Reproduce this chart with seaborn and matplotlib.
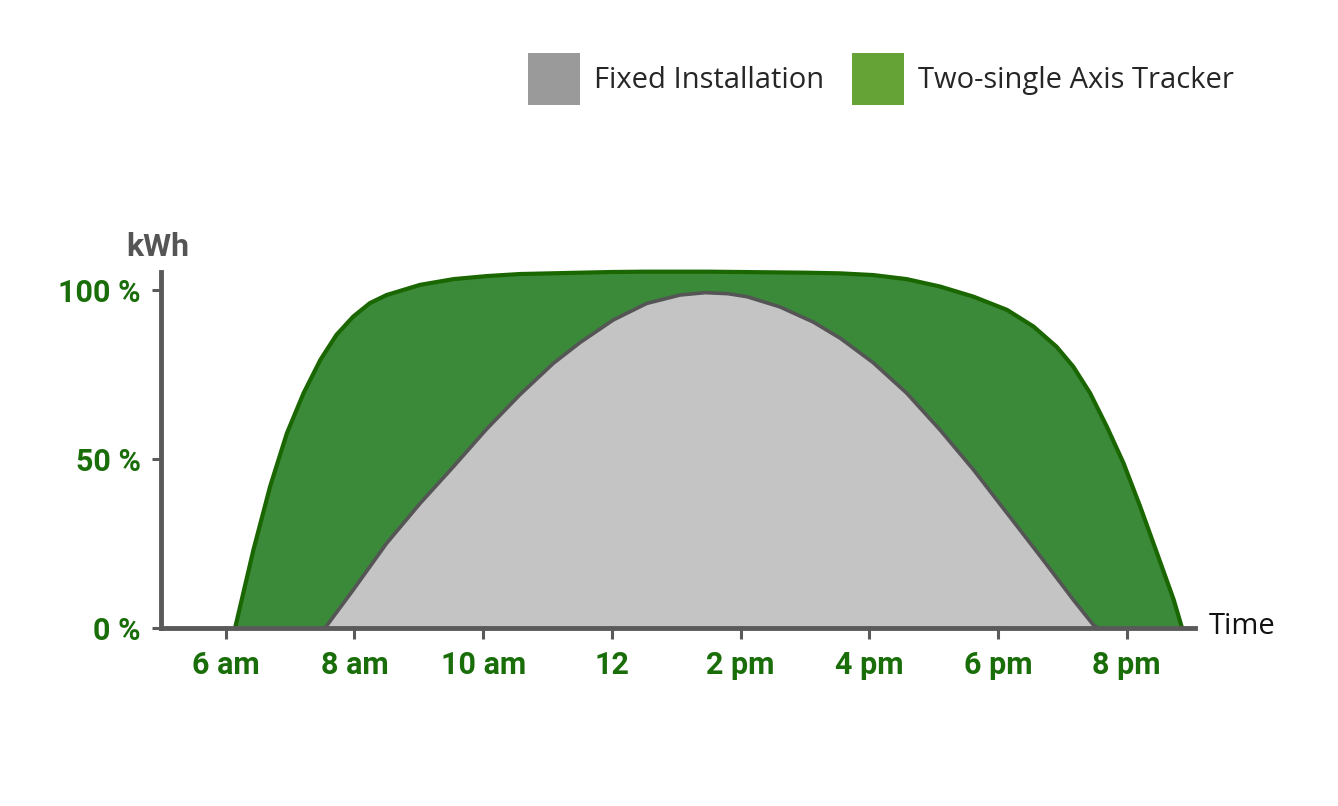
import matplotlib
matplotlib.use("Agg")
import matplotlib.pyplot as plt
import seaborn as sns
import pandas as pd
from matplotlib.patches import Patch

# ---- data ----
tracker_hours = [6.145, 6.43, 6.69, 6.95, 7.21, 7.47, 7.72, 7.98, 8.24, 8.50, 9.02, 9.54,
                 10.06, 10.57, 11.51, 12.0, 12.5, 13.0, 13.5, 14.0, 14.5, 15.0, 15.55,
                 16.06, 16.58, 17.10, 17.62, 18.14, 18.55, 18.91, 19.17, 19.43, 19.69,
                 19.95, 20.21, 20.47, 20.73, 20.86]
tracker_pct = [0, 23.1, 41.9, 57.6, 69.5, 79.3, 86.7, 92.1, 96.1, 98.5, 101.5, 103.2,
               104.1, 104.7, 105.1, 105.3, 105.4, 105.4, 105.4, 105.3, 105.2, 105.1, 104.9,
               104.4, 103.2, 101.0, 98.0, 94.1, 89.2, 83.2, 77.3, 69.5, 59.6,
               48.8, 35.9, 22.2, 8.4, 0]

fixed_hours = [7.54, 7.98, 8.50, 9.02, 9.54, 10.06, 10.57, 11.09, 11.51, 12.02, 12.54,
               13.06, 13.45, 13.80, 14.10, 14.61, 15.13, 15.55, 16.06, 16.58, 17.10,
               17.62, 18.14, 18.66, 19.17, 19.48, 19.56]
fixed_pct = [0, 11.3, 25.1, 36.9, 47.8, 59.0, 69.0, 78.3, 84.5, 91.1, 96.0,
             98.5, 99.2, 98.9, 98.0, 95.0, 90.5, 85.7, 78.5, 69.5, 58.6,
             46.8, 34.0, 21.2, 8.4, 1.0, 0]

x_ticks = [6, 8, 10, 12, 14, 16, 18, 20]
x_tick_labels = ["6 am", "8 am", "10 am", "12", "2 pm", "4 pm", "6 pm", "8 pm"]
y_ticks = [0, 50, 100]
y_tick_labels = ["0 %", "50 %", "100 %"]
legend_labels = ["Fixed Installation", "Two-single Axis Tracker"]

tracker = pd.DataFrame({"hour": tracker_hours, "pct": tracker_pct})
fixed = pd.DataFrame({"hour": fixed_hours, "pct": fixed_pct})

# ---- styling ----
sns.set_theme(style="white")
plt.rcParams["font.family"] = ["Roboto", "DejaVu Sans"]

AXIS_GRAY = "#5a5a5a"
TICK_GREEN = "#1a6e0a"
GREEN_FILL = "#3a8a3a"
GREEN_EDGE = "#1a6600"
GRAY_FILL = "#c4c4c4"
GRAY_EDGE = "#555555"
LEG_GRAY = "#9a9a9a"
LEG_GREEN = "#66a336"

W, H = 1338, 806
fig = plt.figure(figsize=(W / 100, H / 100), dpi=100)
ax = fig.add_axes([161 / W, (H - 628.3) / H, 1034 / W, 356.3 / H])

ax.fill_between(tracker["hour"], 0, tracker["pct"], color=GREEN_FILL, lw=0, zorder=1)
sns.lineplot(data=tracker, x="hour", y="pct", ax=ax, color=GREEN_EDGE, lw=3,
             sort=False, estimator=None, zorder=2, clip_on=False)
ax.fill_between(fixed["hour"], 0, fixed["pct"], color=GRAY_FILL, lw=0, zorder=3)
sns.lineplot(data=fixed, x="hour", y="pct", ax=ax, color=GRAY_EDGE, lw=2.6,
             sort=False, estimator=None, zorder=4)

ax.set_xlim(4.995, 21.06)
ax.set_ylim(0, 105.3)
ax.set_xlabel("")
ax.set_ylabel("")

for side in ["top", "right"]:
    ax.spines[side].set_visible(False)
for side in ["left", "bottom"]:
    ax.spines[side].set_color(AXIS_GRAY)
    ax.spines[side].set_linewidth(3.5)
    ax.spines[side].set_capstyle("projecting")
    ax.spines[side].set_zorder(5)

ax.set_xticks(x_ticks)
ax.set_xticklabels(x_tick_labels)
ax.set_yticks(y_ticks)
ax.set_yticklabels(y_tick_labels)
ax.tick_params(axis="both", which="major", direction="out", color=AXIS_GRAY,
               width=2.2, labelcolor=TICK_GREEN, labelsize=22,
               bottom=True, left=True)
ax.tick_params(axis="x", length=8, pad=7.5)
ax.tick_params(axis="y", length=6.8, pad=8)
for lab in ax.get_xticklabels() + ax.get_yticklabels():
    lab.set_fontweight("bold")

fig.text(158 / W, 1 - 247.5 / H, "kWh", ha="center", va="center", fontsize=23,
         fontweight="bold", color="#555555")
fig.text(1209 / W, 1 - 626 / H, "Time", ha="left", va="center", fontsize=21,
         family=["Open Sans", "DejaVu Sans"], color="#111111")

handles = [Patch(facecolor=LEG_GRAY, edgecolor="none"),
           Patch(facecolor=LEG_GREEN, edgecolor="none")]
leg = fig.legend(handles, legend_labels, loc="center",
                 bbox_to_anchor=(881 / W, 1 - 79 / H), ncol=2, frameon=False,
                 prop={"family": ["Open Sans", "DejaVu Sans"], "size": 21},
                 handlelength=1.78, handleheight=2.36, handletextpad=0.48,
                 columnspacing=0.95, borderpad=0, borderaxespad=0)

fig.savefig("out.png", dpi=100, facecolor="white")
